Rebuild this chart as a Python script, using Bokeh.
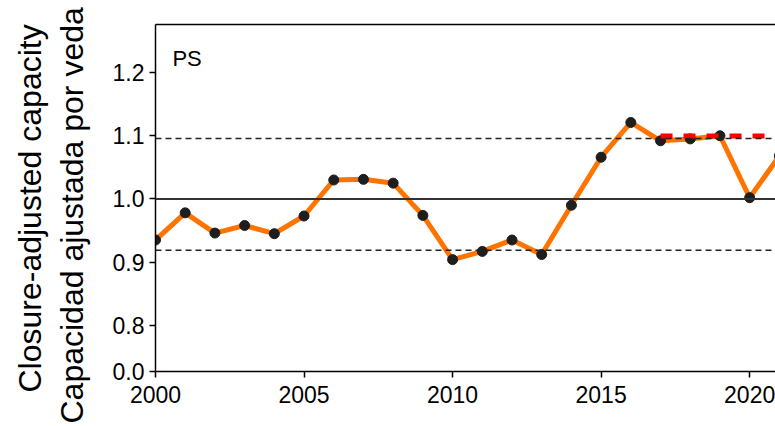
from bokeh.plotting import figure
from bokeh.models import FixedTicker, Span, Label, LinearAxis, Range1d, Title
from bokeh.embed import file_html
from bokeh.resources import INLINE

# ---- data ----
years = [2000, 2001, 2002, 2003, 2004, 2005, 2006, 2007, 2008, 2009, 2010,
         2011, 2012, 2013, 2014, 2015, 2016, 2017, 2018, 2019, 2020, 2021]
capacity = [0.935, 0.978, 0.946, 0.958, 0.945, 0.973, 1.030, 1.031, 1.025, 0.974, 0.904,
            0.917, 0.935, 0.912, 0.990, 1.066, 1.121, 1.092, 1.095, 1.100, 1.002, 1.068]
recent_years = [2017, 2021]
recent_level = [1.0995, 1.0995]
reference_level = 1.0
upper_level = 1.0955
lower_level = 0.919
x_ticks = [2000, 2005, 2010, 2015, 2020]
y_ticks = [0.727, 0.8, 0.9, 1.0, 1.1, 1.2]
y_tick_labels = ["0.0", "0.8", "0.9", "1.0", "1.1", "1.2"]
panel_label = "PS"
y_title_en = "Closure-adjusted capacity"
y_title_es = "Capacidad ajustada por veda"

FONT = "Liberation Sans"

p = figure(frame_width=620, frame_height=347,
           min_border_left=155, min_border_right=0, min_border_top=24, min_border_bottom=55,
           x_range=Range1d(2000, 2020.87), y_range=Range1d(0.727, 1.276),
           output_backend="svg", toolbar_location=None)
p.background_fill_color = "white"
p.border_fill_color = "white"
p.outline_line_color = None
p.xgrid.visible = False
p.ygrid.visible = False

xax = p.below[0]
yax = p.left[0]
for ax in (xax, yax):
    ax.axis_line_color = "black"
    ax.axis_line_width = 1.5
    ax.major_tick_line_color = "black"
    ax.major_tick_line_width = 1.5
    ax.major_tick_in = 0
    ax.major_tick_out = 6
    ax.minor_tick_line_color = None
    ax.major_label_text_font = FONT
    ax.major_label_text_font_size = "23px"
    ax.major_label_text_color = "black"

xax.ticker = FixedTicker(ticks=x_ticks)
xax.major_label_standoff = 8
yax.ticker = FixedTicker(ticks=y_ticks)
yax.major_label_overrides = {t: l for t, l in zip(y_ticks, y_tick_labels)}
yax.major_label_standoff = 5

# top border of the frame (right edge is cut off in the reference)
top = LinearAxis(ticker=FixedTicker(ticks=[]), major_label_text_font_size="0px",
                 major_tick_line_color=None, minor_tick_line_color=None,
                 major_label_text_color=None,
                 axis_line_color="black", axis_line_width=1.5)
p.add_layout(top, "above")

# two-line y-axis title (Spanish line nearest to the axis)
p.add_layout(Title(text=y_title_es, align="left", offset=-52, standoff=40,
                   text_font=FONT, text_font_size="32px", text_font_style="normal",
                   text_color="black"), "left")
p.add_layout(Title(text=y_title_en, align="left", offset=-21, standoff=-32,
                   text_font=FONT, text_font_size="32px", text_font_style="normal",
                   text_color="black"), "left")

p.add_layout(Span(location=reference_level, dimension="width", line_color="#333333", line_width=2))
for lv in (upper_level, lower_level):
    p.add_layout(Span(location=lv, dimension="width", line_color="#222222",
                      line_width=1.5, line_dash="6 4"))

p.line(years, capacity, line_color="#ff7300", line_width=5)
p.scatter(years, capacity, size=10, fill_color="#1e1e1e", line_color="#1e1e1e")
p.line(recent_years, recent_level, line_color="#ff0000", line_width=5, line_dash="12 11")

p.add_layout(Label(x=2000.57, y=1.2224, text=panel_label, text_font=FONT,
                   text_font_size="22px", text_color="black", text_baseline="alphabetic"))

open("out.html", "w").write(file_html(p, INLINE))
